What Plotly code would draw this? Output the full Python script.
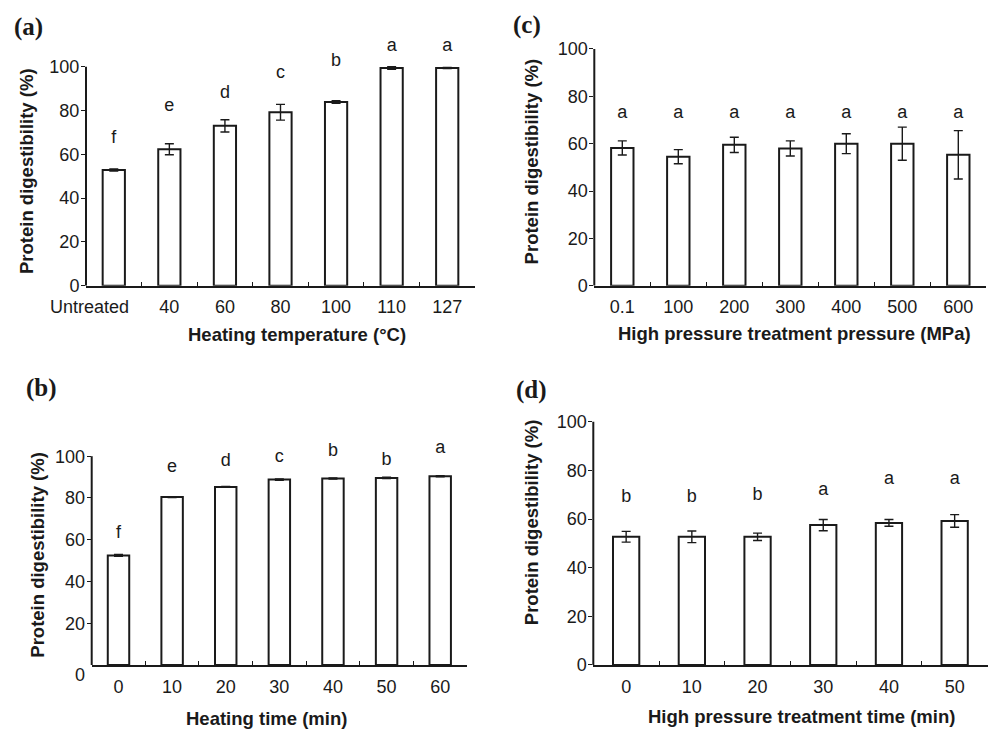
import plotly.graph_objects as go

# ---------------- data ----------------
temp_labels = ["Untreated", "40", "60", "80", "100", "110", "127"]
temp_values = [52.8, 62.3, 73.0, 79.2, 83.9, 99.4, 99.4]
temp_errors = [0.5, 2.5, 2.8, 3.6, 0.6, 0.6, 0.3]
temp_letters = ["f", "e", "d", "c", "b", "a", "a"]
temp_letter_y = [67.4, 81.7, 87.9, 96.7, 102.3, 109.1, 109.1]

time_labels = ["0", "10", "20", "30", "40", "50", "60"]
time_values = [52.5, 80.4, 85.3, 88.8, 89.3, 89.6, 90.4]
time_errors = [0.5, 0.2, 0.2, 0.3, 0.3, 0.3, 0.3]
time_letters = ["f", "e", "d", "c", "b", "b", "a"]
time_letter_y = [63.0, 94.6, 97.3, 99.2, 102.4, 98.1, 103.7]

press_labels = ["0.1", "100", "200", "300", "400", "500", "600"]
press_values = [58.2, 54.5, 59.5, 58.0, 60.0, 60.0, 55.3]
press_errors = [3.0, 3.0, 3.2, 3.2, 4.2, 7.0, 10.2]
press_letters = ["a", "a", "a", "a", "a", "a", "a"]
press_letter_y = [72.8, 72.8, 72.8, 72.8, 72.8, 72.8, 72.8]

hpt_labels = ["0", "10", "20", "30", "40", "50"]
hpt_values = [52.7, 52.7, 52.7, 57.5, 58.4, 59.2]
hpt_errors = [2.2, 2.4, 1.5, 2.3, 1.4, 2.6]
hpt_letters = ["b", "b", "b", "a", "a", "a"]
hpt_letter_y = [68.8, 68.8, 69.5, 71.9, 76.3, 76.3]

y_ticks = [0, 20, 40, 60, 80, 100]
y_ticks_b = [20, 40, 60, 80, 100]
y_axis_max = 100

# ---------------- style ----------------
W, H = 990, 729
FONT = "Liberation Sans, Arial, sans-serif"
SERIF = "Liberation Serif, Times New Roman, serif"
INK = "#1a1a1a"
TICK_SIZE = 18
TITLE_SIZE = 18.5
HEADROOM = 1.15  # plotting range extends above the drawn axis line


def px_x(v):
    return v / W


def px_y(v):
    return 1 - v / H


fig = go.Figure()

panels = [
    # labels, values, errors, letters, letter_y, xdom(px), (y of 100, y of 0) px, yticks
    (temp_labels, temp_values, temp_errors, temp_letters, temp_letter_y,
     (86, 475), (66.7, 285.7), y_ticks),
    (time_labels, time_values, time_errors, time_letters, time_letter_y,
     (91.7, 467), (456.2, 665), y_ticks_b),
    (press_labels, press_values, press_errors, press_letters, press_letter_y,
     (594.3, 986.3), (49, 285.7), y_ticks),
    (hpt_labels, hpt_values, hpt_errors, hpt_letters, hpt_letter_y,
     (593.3, 987.5), (421.7, 665), y_ticks),
]

layout_axes = {}
shapes = []
ann = []
for i, (labs, vals, errs, lets, lety, xd, yd, yt) in enumerate(panels, start=1):
    sfx = "" if i == 1 else str(i)
    fig.add_trace(go.Bar(
        x=labs, y=vals,
        xaxis="x" + sfx, yaxis="y" + sfx,
        marker=dict(color="white", line=dict(color=INK, width=2)),
        error_y=dict(type="data", array=errs, visible=True,
                     color=INK, thickness=1.4, width=4.5),
        showlegend=False, hoverinfo="skip",
    ))
    fig.add_trace(go.Scatter(
        x=labs, y=lety, text=lets, mode="text",
        xaxis="x" + sfx, yaxis="y" + sfx,
        textfont=dict(family=FONT, size=TICK_SIZE, color=INK),
        cliponaxis=False, showlegend=False, hoverinfo="skip",
    ))
    top_px = yd[1] - (yd[1] - yd[0]) * HEADROOM
    # the first label of panel (a) sits left of its bar in the reference:
    # draw it as a separate annotation anchored on its category (index 0)
    tick_text = ["" if (i == 1 and k == 0) else lab for k, lab in enumerate(labs)]
    if i == 1:
        ann.append(dict(text=labs[0], x=0, y=0, xref="x", yref="y",
                        xshift=-24, yshift=-21, showarrow=False,
                        font=dict(family=FONT, size=TICK_SIZE, color=INK),
                        xanchor="center", yanchor="middle"))
    layout_axes["xaxis" + sfx] = dict(
        domain=[px_x(xd[0]), px_x(xd[1])],
        anchor="y" + sfx, type="category",
        categoryorder="array", categoryarray=labs,
        range=[-0.5, len(labs) - 0.5], autorange=False,
        tickvals=labs, ticktext=tick_text,
        showline=True, linecolor=INK, linewidth=2,
        ticks="inside", tickson="boundaries", ticklen=4, tickwidth=1,
        tickcolor=INK, showgrid=False, zeroline=False, tickangle=0,
        tickfont=dict(family=FONT, size=TICK_SIZE, color=INK),
        ticklabelstandoff=4,
        automargin=False,
    )
    layout_axes["yaxis" + sfx] = dict(
        domain=[px_y(yd[1]), px_y(top_px)],
        anchor="x" + sfx, range=[0, y_axis_max * HEADROOM], autorange=False,
        tickvals=yt, ticktext=[str(v) for v in yt],
        showline=False,
        ticks="outside", ticklen=4, tickwidth=1, tickcolor=INK,
        showgrid=False, zeroline=False,
        tickfont=dict(family=FONT, size=TICK_SIZE, color=INK),
        ticklabelstandoff=-2,
        automargin=False,
    )
    shapes.append(dict(type="line", xref="x" + sfx + " domain", yref="y" + sfx,
                       x0=0, x1=0, y0=0, y1=y_axis_max,
                       line=dict(color=INK, width=2)))

fig.update_layout(**layout_axes)
fig.update_layout(bargap=0.6)

# y axis titles
for (x, y) in [(27, 171), (36.7, 555), (531.7, 161.7), (531.7, 522.5)]:
    ann.append(dict(text="<b>Protein digestibility (%)</b>", x=px_x(x), y=px_y(y),
                    xref="paper", yref="paper", showarrow=False, textangle=-90,
                    font=dict(family=FONT, size=TITLE_SIZE, color=INK),
                    xanchor="center", yanchor="middle"))
# x axis titles
for (t, x, y) in [("Heating temperature (°C)", 297, 335),
                  ("Heating time (min)", 266.7, 718),
                  ("High pressure treatment pressure (MPa)", 794, 333),
                  ("High pressure treatment time (min)", 801.7, 716)]:
    ann.append(dict(text="<b>" + t + "</b>", x=px_x(x), y=px_y(y),
                    xref="paper", yref="paper", showarrow=False,
                    font=dict(family=FONT, size=TITLE_SIZE, color=INK),
                    xanchor="center", yanchor="middle"))
# panel labels
for (t, x, y) in [("(a)", 28, 27), ("(b)", 41, 388), ("(c)", 527, 25), ("(d)", 531, 390)]:
    ann.append(dict(text="<b>" + t + "</b>", x=px_x(x), y=px_y(y),
                    xref="paper", yref="paper", showarrow=False,
                    font=dict(family=SERIF, size=25, color=INK),
                    xanchor="center", yanchor="middle"))
# displaced zero label of panel (b)
ann.append(dict(text="0", x=0, y=0, xref="x2 domain", yref="y2",
                xshift=-12, yshift=-10, showarrow=False,
                font=dict(family=FONT, size=TICK_SIZE, color=INK),
                xanchor="center", yanchor="middle"))

fig.update_layout(
    width=W, height=H, margin=dict(l=0, r=0, t=0, b=0, pad=0, autoexpand=False),
    paper_bgcolor="white", plot_bgcolor="white",
    annotations=ann, shapes=shapes, showlegend=False,
)

fig.write_html("out.html", config={"displayModeBar": False},
               post_script="document.body.style.margin='0px';")
